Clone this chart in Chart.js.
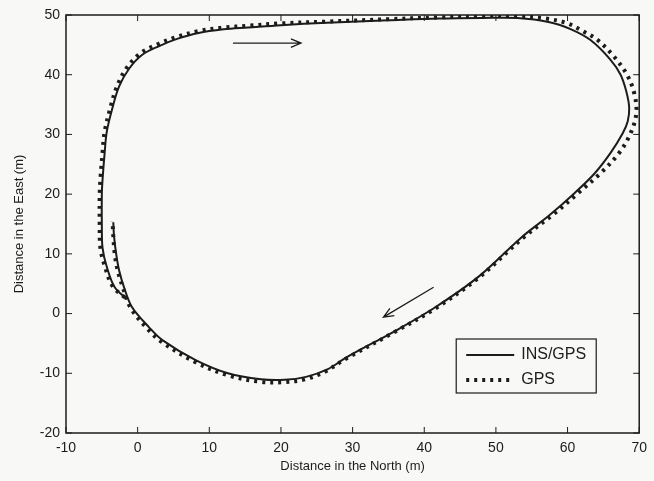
<!DOCTYPE html>
<html>
<head>
<meta charset="utf-8">
<script src="https://cdn.jsdelivr.net/npm/chart.js@4/dist/chart.umd.min.js"></script>
<style>
html,body{margin:0;padding:0;background:#f8f8f6;}
#wrap{width:654px;height:481px;}
</style>
</head>
<body>
<div id="wrap"><canvas id="trackChart" width="654" height="481"></canvas></div>
<script>
// trajectory, INS/GPS solution
const insNorth = [-1.5,-3.2,-4.3,-4.9,-5.0,-5.0,-4.9,-4.6,-4.3,-3.5,-2.6,-1.2,0.6,3.0,5.5,8.5,12,15.4,20,26.4,35,42,48,53,57.5,60.5,63.2,66,67.4,68.2,68.6,68.4,67.7,66,63.8,61,57.5,53.6,47.5,41.6,36.1,29.2,26.4,23.5,20.5,17.2,12.6,8.1,3.4,1.6,-0.8,-1.9,-2.6,-3.0,-3.3,-3.4]
const insEast = [2.4,4.4,7.8,11,15,20,22.4,27,30.5,34.5,38,41,43.3,44.8,46,47,47.6,47.9,48.3,48.7,49.1,49.4,49.5,49.5,48.8,47.6,45.8,42.5,40,37.2,34.5,32.2,30.2,26.9,23.5,20.2,16.5,12.8,6.1,1.1,-2.8,-7.3,-9.4,-10.6,-11.1,-11.0,-10,-7.8,-4.4,-2.3,1.1,4.4,7.3,10,13,15.3]

// trajectory, GPS only
const gpsNorth = [-1.8,-3.5,-4.6,-5.2,-5.3,-5.3,-5.2,-4.9,-4.6,-3.8,-2.9,-1.5,0.4,2.8,5.4,8.5,12,15.4,20,26.4,35,42,48,53,57,60,62.3,64.2,66.5,68.3,69.3,69.6,68.8,67.2,64.6,61.6,58,53.8,47.6,41.6,36,29,26.2,23.4,20.3,17,12.5,8,3.3,1.4,-1.0,-2.1,-2.8,-3.2,-3.4,-3.5]
const gpsEast = [2.7,4.6,8,11,15,20,22.4,27,30.5,34.5,38,41.2,43.6,45.1,46.3,47.3,47.9,48.2,48.6,48.9,49.3,49.6,49.8,49.8,49.4,48.6,47.2,45.8,43,40,36.9,33.6,30.2,26.9,23.5,20.3,16.6,12.7,6,0.9,-3,-7.6,-9.7,-11.0,-11.5,-11.4,-10.3,-8.1,-4.7,-2.6,1.0,4.5,7.3,10,13,15.5]

const seriesLabels = ["INS/GPS", "GPS"]
const xTicks = [-10,0,10,20,30,40,50,60,70]
const yTicks = [-20,-10,0,10,20,30,40,50]

// direction arrows [fromN, fromE, toN, toE]
const arrows = [
[13.3,45.3,22.8,45.3],
[41.3,4.4,34.3,-0.6]
]

function toPoints(xs, ys){
return xs.map((x,i) => ({x:x, y:ys[i]}))
}

const ink = "#1c1c1c"
const tickFont = {family:"'Liberation Sans', Arial, sans-serif", size:14}
const titleFont = {family:"'Liberation Sans', Arial, sans-serif", size:13}

const frame = {
id:"frame",
afterDraw(chart){
const ctx = chart.ctx
const a = chart.chartArea
const sx = chart.scales.x
const sy = chart.scales.y
ctx.save()
ctx.strokeStyle = ink
ctx.lineWidth = 1.5
ctx.strokeRect(a.left, a.top, a.right-a.left, a.bottom-a.top)
// inward ticks on all four sides
ctx.lineWidth = 1
ctx.beginPath()
xTicks.forEach(v => {
const px = sx.getPixelForValue(v)
ctx.moveTo(px, a.bottom); ctx.lineTo(px, a.bottom-6)
ctx.moveTo(px, a.top); ctx.lineTo(px, a.top+6)
})
yTicks.forEach(v => {
const py = sy.getPixelForValue(v)
ctx.moveTo(a.left, py); ctx.lineTo(a.left+6, py)
ctx.moveTo(a.right, py); ctx.lineTo(a.right-6, py)
})
ctx.stroke()

// arrows
ctx.lineWidth = 1.3
arrows.forEach(ar => {
const x1 = sx.getPixelForValue(ar[0]), y1 = sy.getPixelForValue(ar[1])
const x2 = sx.getPixelForValue(ar[2]), y2 = sy.getPixelForValue(ar[3])
const ang = Math.atan2(y2-y1, x2-x1)
ctx.beginPath()
ctx.moveTo(x1,y1); ctx.lineTo(x2,y2)
ctx.moveTo(x2 - 11*Math.cos(ang-0.4), y2 - 11*Math.sin(ang-0.4))
ctx.lineTo(x2,y2)
ctx.lineTo(x2 - 11*Math.cos(ang+0.4), y2 - 11*Math.sin(ang+0.4))
ctx.stroke()
})

// legend box, lower right
const w = 140, h = 54
const lx = a.right - 43 - w
const ly = a.bottom - 40 - h
ctx.fillStyle = "#f8f8f6"
ctx.fillRect(lx, ly, w, h)
ctx.lineWidth = 1.2
ctx.strokeRect(lx, ly, w, h)
ctx.font = "16px 'Liberation Sans', Arial, sans-serif"
ctx.textBaseline = "middle"
chart.data.datasets.forEach((ds, i) => {
const ry = ly + 16 + i*25
ctx.save()
ctx.strokeStyle = ds.borderColor
ctx.lineWidth = ds.borderWidth
ctx.setLineDash(ds.borderDash || [])
ctx.beginPath()
ctx.moveTo(lx+10, ry); ctx.lineTo(lx+58, ry)
ctx.stroke()
ctx.restore()
ctx.fillStyle = ink
ctx.fillText(ds.label, lx+65, ry)
})
ctx.restore()
}
}

new Chart(
document.getElementById("trackChart"),
{
type:"scatter",
data:{
datasets:[
{
label:seriesLabels[0],
data:toPoints(insNorth, insEast),
showLine:true,
borderColor:ink,
borderWidth:2,
pointRadius:0,
tension:0.35,
order:1
},
{
label:seriesLabels[1],
data:toPoints(gpsNorth, gpsEast),
showLine:true,
borderColor:ink,
borderWidth:4,
borderDash:[3,5],
pointRadius:0,
tension:0.35,
order:2
}
]
},
options:{
responsive:false,
animation:false,
layout:{padding:{top:15, right:7, left:0, bottom:0}},
plugins:{legend:{display:false}, tooltip:{enabled:false}},
scales:{
x:{
type:"linear",
min:-10, max:70,
afterBuildTicks(scale){ scale.ticks = xTicks.map(v => ({value:v})) },
afterFit(scale){ scale.height = 48 },
grid:{display:false, drawTicks:false},
border:{display:false},
ticks:{color:ink, font:tickFont, padding:7, maxRotation:0},
title:{display:true, text:"Distance in the North (m)", color:ink, font:titleFont, padding:{top:0, bottom:7}}
},
y:{
type:"linear",
min:-20, max:50,
afterBuildTicks(scale){ scale.ticks = yTicks.map(v => ({value:v})) },
afterFit(scale){ scale.width = 66 },
grid:{display:false, drawTicks:false},
border:{display:false},
ticks:{color:ink, font:tickFont, padding:6},
title:{display:true, text:"Distance in the East (m)", color:ink, font:titleFont, padding:{top:12, bottom:0}}
}
}
},
plugins:[frame]
}
)
</script>
</body>
</html>
